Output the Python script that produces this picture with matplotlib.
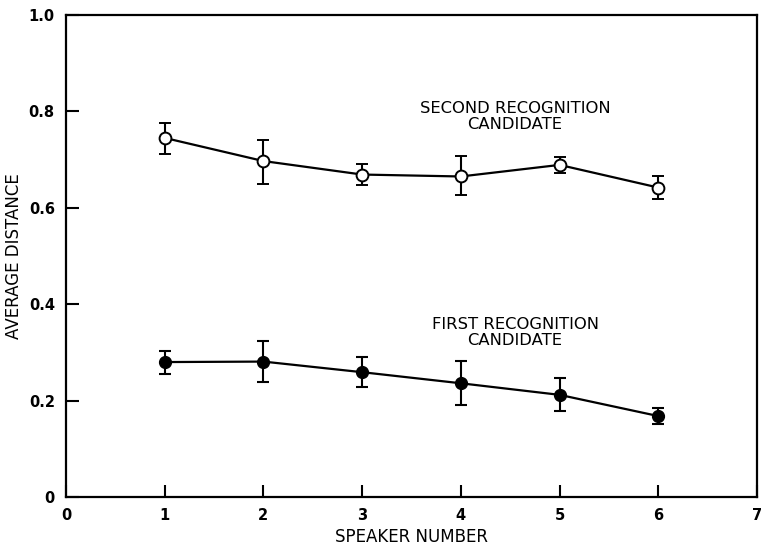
import matplotlib.pyplot as plt
import numpy as np

speakers = [1, 2, 3, 4, 5, 6]

# second recognition candidate: mean, upper and lower end of bar
second_mean = [0.745, 0.697, 0.669, 0.665, 0.689, 0.642]
second_hi = [0.775, 0.741, 0.690, 0.707, 0.705, 0.667]
second_lo = [0.712, 0.650, 0.648, 0.627, 0.673, 0.618]

# first recognition candidate
first_mean = [0.280, 0.281, 0.259, 0.236, 0.212, 0.168]
first_hi = [0.302, 0.323, 0.291, 0.282, 0.247, 0.184]
first_lo = [0.255, 0.238, 0.228, 0.190, 0.179, 0.152]

x_ticks = [0, 1, 2, 3, 4, 5, 6, 7]
y_ticks = [0, 0.2, 0.4, 0.6, 0.8, 1.0]
y_ticklabels = ['0', '0.2', '0.4', '0.6', '0.8', '1.0']


def yerr(mean, lo, hi):
    m = np.array(mean)
    return [m - np.array(lo), np.array(hi) - m]


fig = plt.figure(figsize=(7.61, 5.45), dpi=100)
ax = fig.add_axes([0.0867, 0.088, 0.908, 0.8845])

ax.errorbar(speakers, second_mean, yerr=yerr(second_mean, second_lo, second_hi),
            color='black', lw=1.6, elinewidth=1.5, capsize=4, capthick=1.5,
            marker='o', markersize=8.5, markerfacecolor='white',
            markeredgecolor='black', markeredgewidth=1.4, zorder=3)
ax.errorbar(speakers, first_mean, yerr=yerr(first_mean, first_lo, first_hi),
            color='black', lw=1.6, elinewidth=1.5, capsize=4, capthick=1.5,
            marker='o', markersize=8.5, markerfacecolor='black',
            markeredgecolor='black', zorder=3)

ax.text(4.55, 0.79, 'SECOND RECOGNITION\nCANDIDATE', ha='center', va='center',
        fontsize=11.8, linespacing=1.1)
ax.text(4.55, 0.342, 'FIRST RECOGNITION\nCANDIDATE', ha='center', va='center',
        fontsize=11.8, linespacing=1.1)

ax.set_xlim(0, 7)
ax.set_ylim(0, 1.0)
ax.set_xticks(x_ticks)
ax.set_yticks(y_ticks)
ax.set_yticklabels(y_ticklabels)
ax.tick_params(direction='in', length=9, width=1.5, labelsize=10.5, pad=8)
for lab in ax.get_xticklabels() + ax.get_yticklabels():
    lab.set_fontweight('bold')
for s in ax.spines.values():
    s.set_linewidth(1.6)

ax.set_xlabel('SPEAKER NUMBER', fontsize=12, va='center')
ax.set_ylabel('AVERAGE DISTANCE', fontsize=12)
ax.xaxis.set_label_coords(0.5, -0.083)
ax.yaxis.set_label_coords(-0.062, 0.5)

plt.savefig('out.png', dpi=100)
